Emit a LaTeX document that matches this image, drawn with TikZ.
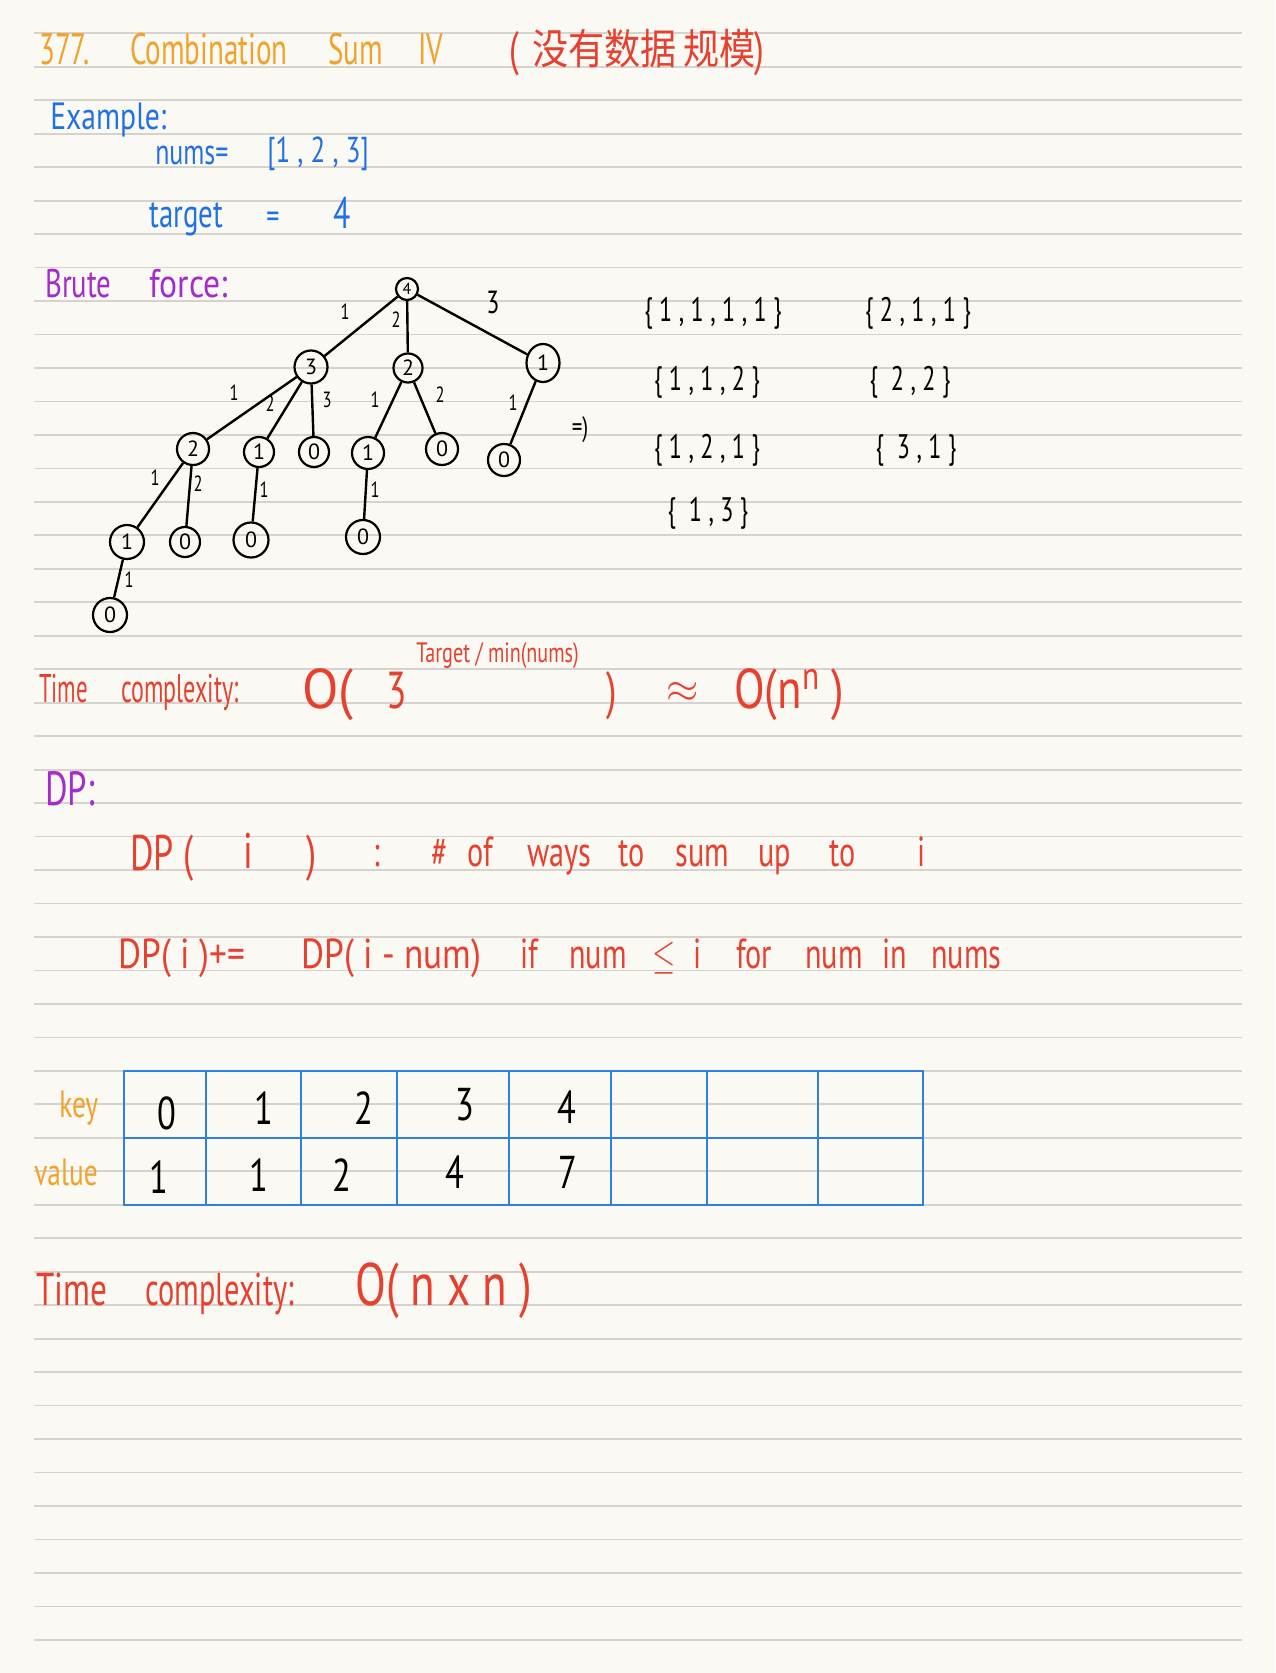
\documentclass[tikz,border=0pt]{standalone}
\usepackage{fontspec}
\usetikzlibrary{shapes.geometric}
\setmainfont{PT Sans}
\newfontfamily\cjk{Noto Sans CJK SC}
\definecolor{paper}{HTML}{FBF9F4}
\definecolor{rulec}{HTML}{D6D3CE}
\definecolor{hworange}{HTML}{F2A22A}
\definecolor{hwred}{HTML}{E8402E}
\definecolor{hwblue}{HTML}{2171E6}
\definecolor{tblblue}{HTML}{2E7FE6}
\definecolor{hwpurple}{HTML}{A32CCB}
\newcommand\hsz[1]{\fontsize{#1}{#1}\selectfont}
\begin{document}
\begin{tikzpicture}[x=0.5pt,y=-0.5pt,
  hw/.style={inner sep=0pt, anchor=base west},
  hwc/.style={inner sep=0pt, anchor=center},
  title/.style={hw, text=hworange, font=\hsz{22}, xscale=#1},
  title/.default=0.66,
  tred/.style={hw, text=hwred, font=\hsz{21}, xscale=#1},
  tred/.default=0.72,
  tblue/.style={hw, text=hwblue, font=\hsz{19}, xscale=#1},
  tblue/.default=0.72,
  tpurple/.style={hw, text=hwpurple, font=\hsz{20}, xscale=#1},
  tpurple/.default=0.72,
  torange/.style={hw, text=hworange, font=\hsz{19}, xscale=0.72},
  tnode/.style={circle, draw=black, line width=1.1pt, inner sep=0pt, font=\hsz{11}},
  tedge/.style={draw=black, line width=1.2pt},
  elbl/.style={hwc, font=\hsz{11}, xscale=0.75},
  setlbl/.style={hwc, font=\hsz{17}, xscale=0.71},
  cell/.style={hwc, font=\hsz{23}, xscale=0.75},
  rule/.style={draw=rulec, line width=0.9pt},
  tbl/.style={draw=tblblue, line width=1.4pt}]
\useasboundingbox (0,0) rectangle (1275,1673);
\fill[paper] (0,0) rectangle (1275,1673);
% ruled lines
\foreach \k in {0,...,48}{
  \pgfmathsetmacro\yy{33.3+33.47*\k}
  \draw[rule] (34,\yy) -- (1242,\yy);
}
% title
\node[title] (t1) at (39,65) {377.};
\node[title] (t2) at (130,65) {Combination};
\node[title] (t3) at (328,65) {Sum};
\node[title] (t4) at (418,65) {IV};
\node[tred, font=\hsz{24}] (t5) at (509,66) {(};
\node[inner sep=0pt, anchor=base west, text=hwred, font=\cjk\hsz{21}, xscale=0.86] (t6) at (532,65) {没有数据\kern4pt 规模};
\node[tred, font=\hsz{24}] (t7) at (754,66) {)};
% example
\node[tblue=0.78] (ex) at (50,130) {Example:};
\node[tblue, font=\hsz{18}] (nm) at (155,165) {nums=};
\node[tblue=0.75, font=\hsz{18}] (nv) at (267,163) {[1 , 2 , 3]};
\node[tblue, font=\hsz{20}] (tg) at (149,228) {target};
\node[tblue, font=\hsz{18}] (tq) at (266,229) {=};
\node[tblue, font=\hsz{22}] (tv) at (333,229) {4};
% brute force
\node[tpurple] (bf1) at (45,298) {Brute};
\node[tpurple=0.84] (bf2) at (149,298) {force:};
% tree
\node[tnode, minimum size=11pt, font=\hsz{8}] (n4) at (407,289) {4};
\node[tnode, minimum size=16.5pt] (n3) at (311,367) {3};
\node[tnode, minimum size=14.5pt] (n2) at (408,368) {2};
\node[tnode, ellipse, minimum width=16.5pt, minimum height=19pt] (n1) at (543,363) {1};
\node[tnode, minimum size=16pt] (na) at (193,449) {2};
\node[tnode, minimum size=15pt] (nb) at (259,452) {1};
\node[tnode, minimum size=15pt] (nc) at (314,452) {0};
\node[tnode, minimum size=16pt] (nd) at (368,453) {1};
\node[tnode, minimum size=16pt] (ne) at (442,449) {0};
\node[tnode, minimum size=16pt] (nf) at (504,460) {0};
\node[tnode, minimum size=17pt] (ng) at (127,542) {1};
\node[tnode, minimum size=15pt] (nh) at (185,542) {0};
\node[tnode, minimum size=17.5pt] (ni) at (251,540) {0};
\node[tnode, minimum size=17pt] (nj) at (363,537) {0};
\node[tnode, minimum size=17pt] (nk) at (110,615) {0};
\draw[tedge] (n4) -- (n3);
\draw[tedge] (n4) -- (n2);
\draw[tedge] (n4) -- (n1);
\draw[tedge] (n3) -- (na);
\draw[tedge] (n3) -- (nb);
\draw[tedge] (n3) -- (nc);
\draw[tedge] (n2) -- (nd);
\draw[tedge] (n2) -- (ne);
\draw[tedge] (n1) -- (nf);
\draw[tedge] (na) -- (ng);
\draw[tedge] (na) -- (nh);
\draw[tedge] (nb) -- (ni);
\draw[tedge] (nd) -- (nj);
\draw[tedge] (ng) -- (nk);
% edge labels
\node[elbl] (l1) at (345,312) {1};
\node[elbl] (l2) at (396,320) {2};
\node[elbl, font=\hsz{16}] (l3) at (493,302) {3};
\node[elbl] (l4) at (234,393) {1};
\node[elbl] (l5) at (270,404) {2};
\node[elbl] (l6) at (327,400) {3};
\node[elbl] (l7) at (375,400) {1};
\node[elbl] (l8) at (440,395) {2};
\node[elbl] (l9) at (513,403) {1};
\node[elbl] (l10) at (155,478) {1};
\node[elbl] (l11) at (198,484) {2};
\node[elbl] (l12) at (264,490) {1};
\node[elbl] (l13) at (375,490) {1};
\node[elbl] (l14) at (129,580) {1};
% result sets
\node[hwc, font=\hsz{14}, xscale=0.75] (arr) at (580,430) {=)};
\node[setlbl] (s1) at (713,313) {\{ 1 , 1 , 1 , 1 \}};
\node[setlbl] (s2) at (918,313) {\{ 2 , 1 , 1 \}};
\node[setlbl] (s3) at (707,382) {\{ 1 , 1 , 2 \}};
\node[setlbl] (s4) at (910,382) {\{ \ 2 , 2 \}};
\node[setlbl] (s5) at (707,450) {\{ 1 , 2 , 1 \}};
\node[setlbl] (s6) at (916,450) {\{ \ 3 , 1 \}};
\node[setlbl] (s7) at (708,513) {\{ \ 1 , 3 \}};
% time complexity 1
\node[tred=0.57, font=\hsz{20}] (tc1) at (39,702) {Time};
\node[tred=0.6, font=\hsz{20}] (tc2) at (121,702) {complexity:};
\node[tred=0.95, font=\hsz{28}] (tc3) at (302,708) {O(};
\node[tred, font=\hsz{26}] (tc4) at (386,708) {3};
\node[tred, font=\hsz{14}] (tc5) at (416,662) {Target / min(nums)};
\node[tred, font=\hsz{26}] (tc6) at (606,708) {)};
\node[hwc, text=hwred, font=\hsz{20}] (tc7) at (683,692) {$\approx$};
\node[tred=0.8, font=\hsz{28}] (tc8) at (734,708) {O(n\textsuperscript{n} )};
% DP
\node[tpurple, font=\hsz{24}] (dp) at (45,805) {DP:};
\node[tred, font=\hsz{25}] (d1) at (130,870) {DP (};
\node[tred, font=\hsz{25}] (d2) at (243,868) {i};
\node[tred, font=\hsz{25}] (d3) at (306,870) {)};
\node[tred] (d4) at (373,866) {:};
\node[tred] (d5) at (431,866) {\#};
\node[tred] (d6) at (467,866) {of};
\node[tred] (d7) at (527,866) {ways};
\node[tred] (d8) at (618,866) {to};
\node[tred] (d9) at (675,866) {sum};
\node[tred] (d10) at (758,866) {up};
\node[tred] (d11) at (829,866) {to};
\node[tred] (d12) at (917,866) {i};
\node[tred=0.84] (e1) at (118,968) {DP( i )+=};
\node[tred=0.84] (e2) at (301,968) {DP( i - num)};
\node[tred] (e3) at (520,968) {if};
\node[tred] (e4) at (569,968) {num};
\node[tred] (e5) at (652,968) {$\leq$};
\node[tred] (e6) at (693,968) {i};
\node[tred] (e7) at (736,968) {for};
\node[tred] (e8) at (805,968) {num};
\node[tred] (e9) at (882,968) {in};
\node[tred] (e10) at (931,968) {nums};
% table
\node[torange] (key) at (59,1117) {key};
\node[torange] (val) at (34,1185) {value};
\draw[tbl] (124,1071) rectangle (923,1205);
\draw[tbl] (124,1138) -- (923,1138);
\foreach \cx in {206,301,397,509,611,707,818}{
  \draw[tbl] (\cx,1071) -- (\cx,1205);
}
\node[cell] (k0) at (167,1113) {0};
\node[cell] (k1) at (264,1108) {1};
\node[cell] (k2) at (364,1108) {2};
\node[cell] (k3) at (465,1105) {3};
\node[cell] (k4) at (567,1107) {4};
\node[cell] (v0) at (159,1177) {1};
\node[cell] (v1) at (259,1175) {1};
\node[cell] (v2) at (342,1175) {2};
\node[cell] (v3) at (455,1172) {4};
\node[cell] (v4) at (568,1172) {7};
% time complexity 2
\node[tred, font=\hsz{23}] (b1) at (36,1305) {Time};
\node[tred=0.66, font=\hsz{23}] (b2) at (145,1305) {complexity:};
\node[tred=0.75, font=\hsz{30}] (b3) at (355,1305) {O( n x n )};
\end{tikzpicture}
\end{document}
